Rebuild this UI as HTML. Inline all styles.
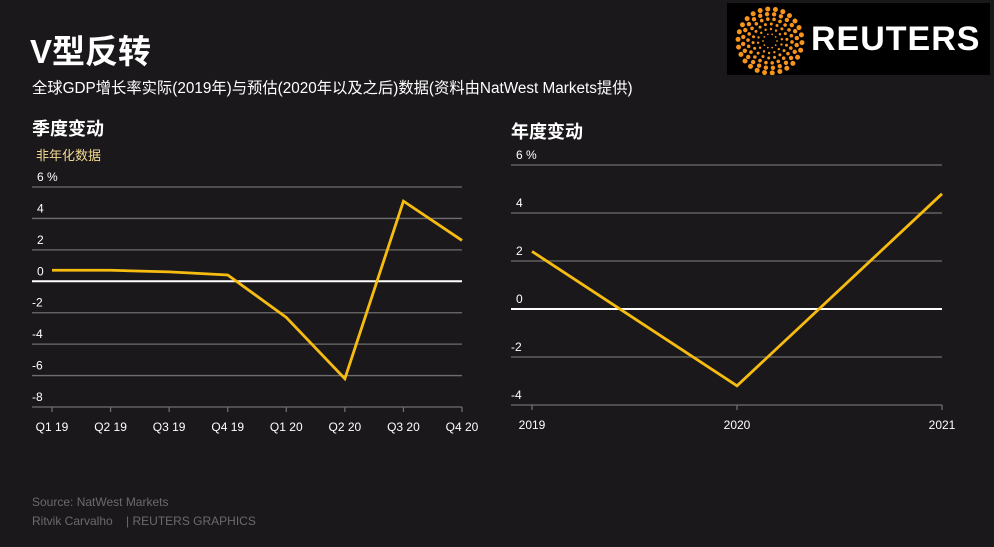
<!DOCTYPE html>
<html><head><meta charset="utf-8">
<style>
body{margin:0;background:#1b181b;}
#root{position:relative;width:994px;height:547px;background:#1b181b;font-family:"Liberation Sans","Noto Sans CJK SC",sans-serif;color:#fff;overflow:hidden}
.t{position:absolute;white-space:nowrap}
svg text{font-family:"Liberation Sans","Noto Sans CJK SC",sans-serif}
</style></head><body>
<div id="root">
<div class="t" style="left:30px;top:25px;font-size:33px;font-weight:bold;">V型反转</div>
<div class="t" style="left:32px;top:76px;font-size:15.3px;">全球GDP增长率实际(2019年)与预估(2020年以及之后)数据(资料由NatWest Markets提供)</div>
<div class="t" style="left:32px;top:115px;font-size:18px;font-weight:bold;">季度变动</div>
<div class="t" style="left:36px;top:145px;font-size:13px;color:#f0d890;">非年化数据</div>
<div class="t" style="left:511px;top:118px;font-size:18px;font-weight:bold;">年度变动</div>
<div class="t" style="left:32px;top:495px;font-size:12px;color:#6b6b6b;">Source: NatWest Markets</div>
<div class="t" style="left:32px;top:514px;font-size:12px;color:#6b6b6b;">Ritvik Carvalho &nbsp;&nbsp;&nbsp;| REUTERS GRAPHICS</div>
<div style="position:absolute;left:727px;top:3px;width:263px;height:72px;background:#000;">
<svg id="logo" width="90" height="72" style="position:absolute;left:0;top:0"></svg>
<div class="t" style="left:84px;top:17px;font-size:34px;font-weight:bold;letter-spacing:1px;color:#fff;">REUTERS</div>
</div>
<svg id="chart" width="994" height="547" style="position:absolute;left:0;top:0"></svg>
</div>
<script>
const qCategories=["Q1 19","Q2 19","Q3 19","Q4 19","Q1 20","Q2 20","Q3 20","Q4 20"];
const qValues=[0.7,0.7,0.6,0.4,-2.3,-6.2,5.1,2.6];
const qTicks=[6,4,2,0,-2,-4,-6,-8];
const yCategories=["2019","2020","2021"];
const yValues=[2.4,-3.2,4.8];
const yTicks=[6,4,2,0,-2,-4];
const NS="http://www.w3.org/2000/svg";
const svg=document.getElementById('chart');
function el(tag,attrs,parent){const e=document.createElementNS(NS,tag);for(const k in attrs)e.setAttribute(k,attrs[k]);(parent||svg).appendChild(e);return e;}
function drawChart(cfg){
  const {cats,vals,ticks,x0,x1,px0,px1,yTop,yBot,name}=cfg;
  const vmax=ticks[0],vmin=ticks[ticks.length-1];
  const ys=v=>yTop+(vmax-v)/(vmax-vmin)*(yBot-yTop);
  const xs=i=>px0+i*(px1-px0)/(cats.length-1);
  ticks.forEach(t=>{
    const l=el('line',{x1:x0,x2:x1,y1:ys(t),y2:ys(t),stroke:t===0?'#ffffff':'#6e6e6e','stroke-width':t===0?2:1.3});
    
    
    const tx=el('text',{x:x0+(t<0?0:5),y:ys(t)-6,fill:'#fff','font-size':12});
    tx.textContent=t===vmax?t+' %':String(t);
    
    
  });
  cats.forEach((c,i)=>{
    const tk=el('line',{x1:xs(i),x2:xs(i),y1:yBot,y2:yBot+5,stroke:'#6e6e6e','stroke-width':1.3});
    
    
    const tx=el('text',{x:xs(i),y:yBot+24,fill:'#fff','font-size':12,'text-anchor':'middle'});
    tx.textContent=c;
    
    
  });
  const p=el('polyline',{points:vals.map((v,i)=>xs(i)+','+ys(v)).join(' '),fill:'none',stroke:'#f7bc10','stroke-width':2.8,'stroke-linejoin':'miter'});
  
  
}
drawChart({cats:qCategories,vals:qValues,ticks:qTicks,x0:32,x1:462,px0:52,px1:462,yTop:187,yBot:407,name:'quarterly'});
drawChart({cats:yCategories,vals:yValues,ticks:yTicks,x0:511,x1:942,px0:532,px1:942,yTop:165,yBot:405,name:'annual'});
// logo sunburst
const lg=document.getElementById('logo');
const cx=43,cy=38;
[[7,10,0.9],[12,14,1.2],[17,18,1.5],[22,22,1.8],[27,24,2.2],[32,26,2.5]].forEach(([r,n,s],k)=>{
  for(let i=0;i<n;i++){const a=i/n*Math.PI*2+k*0.3;
    const c=el('circle',{cx:cx+r*Math.cos(a),cy:cy+r*Math.sin(a),r:s,fill:'#f7941d'},lg);
    
    }
});
</script>
</body></html>
